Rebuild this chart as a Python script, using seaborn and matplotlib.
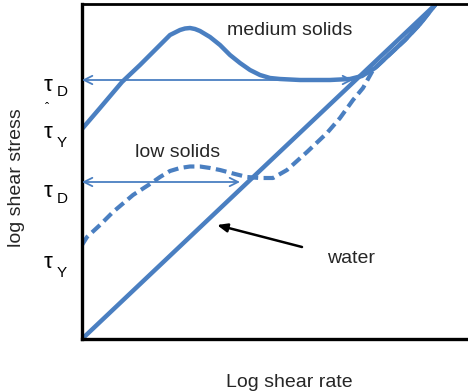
import matplotlib
matplotlib.use("Agg")
import matplotlib.pyplot as plt
import seaborn as sns
import pandas as pd

# Flow curves on a log-log grid (arbitrary units: x = log shear rate, y = log shear stress)
water_x = [0, 353]
water_y = [0, 334]

medium_x = [0, 18, 40, 58, 68, 78, 88, 98, 103, 108, 113, 118, 128, 138, 148, 158, 168,
            178, 188, 198, 218, 248, 268, 280, 293, 308, 323, 338, 353]
medium_y = [210, 231, 257, 274, 284, 294, 304, 309, 310.5, 311, 310, 308, 302, 294, 284,
            276, 269, 264, 261, 260, 259, 259, 260, 263, 271, 285, 299, 315, 334]

low_x = [0, 5, 18, 31, 51, 68, 78, 88, 98, 108, 118, 128, 138, 153, 165, 178, 191, 205,
         225, 245, 258, 271, 281, 291, 308, 323, 338, 353]
low_y = [94, 102, 114, 127, 144, 155, 162, 168, 171, 172.5, 172.5, 171, 169, 165, 162,
         161, 161, 169, 187, 206, 221, 239, 251, 269, 285, 299, 315, 334]

# Dynamic stress levels marked by the horizontal arrows
tau_d_medium = 259
tau_d_low = 157
arrow_end_medium = 271
arrow_end_low = 158

BLUE = "#4a7fc1"
TEXT = "#262626"

sns.set_style("white")
plt.rcParams["font.family"] = ["Liberation Sans", "DejaVu Sans"]

fig = plt.figure(figsize=(4.68, 3.92), dpi=100)
ax = fig.add_axes([82 / 468, 53 / 392, 386 / 468, 335 / 392])

water = pd.DataFrame({"rate": water_x, "stress": water_y})
medium = pd.DataFrame({"rate": medium_x, "stress": medium_y})
low = pd.DataFrame({"rate": low_x, "stress": low_y})

sns.lineplot(data=water, x="rate", y="stress", sort=False, estimator=None,
             color=BLUE, lw=3.2, ax=ax, solid_capstyle="round")
sns.lineplot(data=medium, x="rate", y="stress", sort=False, estimator=None,
             color=BLUE, lw=3.2, ax=ax, solid_capstyle="round", solid_joinstyle="round")
line_low = sns.lineplot(data=low, x="rate", y="stress", sort=False, estimator=None,
                        color=BLUE, lw=3.0, ax=ax).lines[-1]
line_low.set_dashes([2.6, 1.3])

# Double-headed arrows from the stress axis
for level, end in [(tau_d_medium, arrow_end_medium), (tau_d_low, arrow_end_low)]:
    ax.annotate("", xy=(end, level), xytext=(0, level),
                arrowprops=dict(arrowstyle="<->,head_length=0.6,head_width=0.3",
                                color=BLUE, lw=1.3, shrinkA=0, shrinkB=0))

# Pointer to the Newtonian (water) line
ax.annotate("", xy=(135, 114), xytext=(220, 92),
            arrowprops=dict(arrowstyle="-|>,head_length=0.6,head_width=0.25",
                            color="black", lw=1.8, shrinkA=0, shrinkB=0))

ax.text(208, 304, "medium solids", fontsize=14, color=TEXT, ha="center", va="baseline")
ax.text(96, 182, "low solids", fontsize=14, color=TEXT, ha="center", va="baseline")
ax.text(269, 76, "water", fontsize=14, color=TEXT, ha="center", va="baseline")

ax.set_xlim(0, 386)
ax.set_ylim(0, 335)
ax.set_xticks([])
ax.set_yticks([])
ax.set_xlabel("")
ax.set_ylabel("")
for side in ["left", "bottom", "top"]:
    ax.spines[side].set_color("black")
ax.spines["left"].set_linewidth(2.4)
ax.spines["bottom"].set_linewidth(2.4)
ax.spines["top"].set_linewidth(2.0)
ax.spines["right"].set_visible(False)

# Axis titles
fig.text(289 / 468, 1 - 387 / 392, "Log shear rate", fontsize=14, color=TEXT,
         ha="center", va="baseline")
fig.text(17 / 468, 1 - 178 / 392, "log shear stress", fontsize=14, color=TEXT,
         rotation=90, ha="center", va="center")

# Stress labels on the left
tau_labels = [("D", 91, 96), ("Y", 138, 147), ("D", 197, 203), ("Y", 268, 277)]
for sub, base_tau, base_sub in tau_labels:
    fig.text(44 / 468, 1 - base_tau / 392, "τ", fontsize=16, color="black",
             ha="left", va="baseline")
    fig.text(57 / 468, 1 - base_sub / 392, sub, fontsize=11, color="black",
             ha="left", va="baseline")
fig.text(47 / 468, 1 - 112 / 392, "ˆ", fontsize=9, color="black", ha="center", va="baseline")

fig.savefig("out.png", dpi=100)
